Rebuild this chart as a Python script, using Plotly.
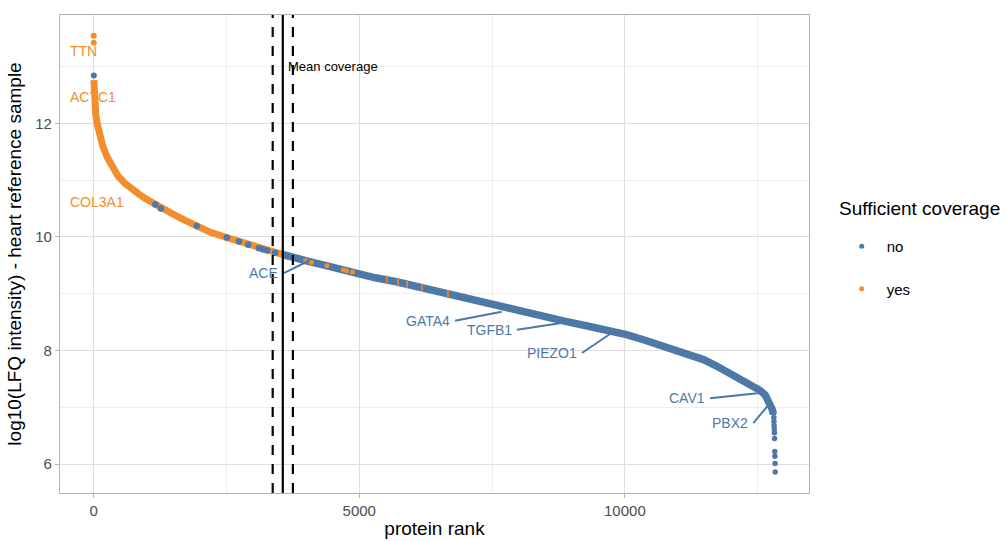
import plotly.graph_objects as go

BLUE = "#4E79A7"
ORANGE = "#F28E2B"
FONT = "Liberation Sans, Arial, Helvetica, sans-serif"

# --- ranked intensities (protein rank, log10 LFQ intensity) ---
# proteins with sufficient coverage, top of the ranking
yes_curve_rank = [4, 8, 20, 40, 70, 110, 170, 250, 340, 460, 590, 730, 870, 1020,
                  1160, 1300, 1500, 1720, 1940, 2200, 2500, 2740, 2910, 3190, 3420,
                  3570, 3700]
yes_curve_val = [12.76, 12.55, 12.35, 12.14, 11.98, 11.80, 11.60, 11.41, 11.24,
                 11.07, 10.94, 10.83, 10.74, 10.65, 10.57, 10.49, 10.40, 10.29,
                 10.19, 10.08, 9.99, 9.92, 9.86, 9.78, 9.73, 9.69, 9.65]

# proteins without sufficient coverage, bulk of the ranking
no_curve_rank = [3570, 3760, 4040, 4260, 4510, 4830, 5010, 5300, 5700, 6200, 6600,
                 6960, 7300, 7590, 7900, 8210, 8500, 8840, 9250, 9660, 10030, 10350,
                 10660, 10980, 11240, 11480, 11700, 11920, 12100, 12290, 12440,
                 12540, 12640, 12700, 12740, 12765, 12785, 12795]
no_curve_val = [9.69, 9.63, 9.57, 9.52, 9.46, 9.39, 9.34, 9.28, 9.21, 9.10, 9.01,
                8.92, 8.85, 8.77, 8.71, 8.65, 8.59, 8.52, 8.44, 8.36, 8.28, 8.19,
                8.10, 7.98, 7.91, 7.84, 7.74, 7.63, 7.55, 7.45, 7.37, 7.30, 7.22,
                7.13, 7.06, 6.98, 6.92, 6.88]

# individual well-separated proteins
yes_top_rank = [1, 2]
yes_top_val = [13.54, 13.42]
no_top_rank = [3]
no_top_val = [12.84]

no_scatter_rank = [1160, 1265, 1940, 2505, 2735, 2910, 3110, 3190, 3265, 3415]
no_scatter_val = [10.57, 10.50, 10.19, 9.99, 9.92, 9.86, 9.80, 9.78, 9.76, 9.72]

yes_scatter_rank = [3990, 4100, 4390, 4700, 4760, 4870]
yes_scatter_val = [9.58, 9.55, 9.49, 9.42, 9.40, 9.38]
yes_sliver_rank = [5520, 5730, 5900, 6180, 6670]
yes_sliver_val = [9.25, 9.20, 9.17, 9.10, 8.99]

no_tail_rank = [12800, 12803, 12806, 12809, 12812, 12815, 12818, 12821, 12824,
                12827, 12830]
no_tail_val = [6.90, 6.82, 6.75, 6.68, 6.62, 6.55, 6.45, 6.22, 6.14, 6.01, 5.86]

# coverage summary
mean_coverage = 3560
coverage_low = 3370
coverage_high = 3750

# labelled genes: label anchor and the protein it points at
gene_names = ["ACE", "GATA4", "TGFB1", "PIEZO1", "CAV1", "PBX2"]
gene_rank = [4040, 7681, 8840, 9720, 12544, 12700]
gene_val = [9.576, 8.683, 8.49, 8.29, 7.25, 7.04]
label_rank = [3569, 6802, 7969, 9192, 11602, 12417]
label_val = [9.359, 8.525, 8.366, 7.956, 7.16, 6.72]

top_gene_names = ["TTN", "ACTC1", "COL3A1"]
top_label_rank = [-478, -478, -478]
top_label_val = [13.278, 12.468, 10.609]

x_ticks = [0, 5000, 10000]
y_ticks = [6, 8, 10, 12]

fig = go.Figure()

# main band of points drawn as a thick trace
fig.add_trace(go.Scatter(x=yes_curve_rank, y=yes_curve_val, mode="lines",
                         line=dict(color=ORANGE, width=7), showlegend=False,
                         hoverinfo="skip"))
fig.add_trace(go.Scatter(x=no_scatter_rank, y=no_scatter_val, mode="markers",
                         marker=dict(color=BLUE, size=6.5), showlegend=False))
fig.add_trace(go.Scatter(x=no_curve_rank, y=no_curve_val, mode="lines",
                         line=dict(color=BLUE, width=7.5), showlegend=False,
                         hoverinfo="skip"))
fig.add_trace(go.Scatter(x=yes_scatter_rank, y=yes_scatter_val, mode="markers",
                         marker=dict(color=ORANGE, size=5), showlegend=False))
fig.add_trace(go.Scatter(x=yes_sliver_rank, y=yes_sliver_val, mode="markers",
                         marker=dict(symbol="line-ns", size=6,
                                     line=dict(color=ORANGE, width=1.5)),
                         showlegend=False))
fig.add_trace(go.Scatter(x=yes_top_rank, y=yes_top_val, mode="markers",
                         marker=dict(color=ORANGE, size=6), showlegend=False))
fig.add_trace(go.Scatter(x=no_top_rank, y=no_top_val, mode="markers",
                         marker=dict(color=BLUE, size=6), showlegend=False))
fig.add_trace(go.Scatter(x=no_tail_rank, y=no_tail_val, mode="markers",
                         marker=dict(color=BLUE, size=5.5), showlegend=False))

# repel-style segments from labels to their proteins
for lr, lv, gr, gv in zip(label_rank, label_val, gene_rank, gene_val):
    fig.add_trace(go.Scatter(x=[lr, gr], y=[lv, gv], mode="lines",
                             line=dict(color=BLUE, width=2), showlegend=False,
                             hoverinfo="skip"))

# legend entries
fig.add_trace(go.Scatter(x=[None], y=[None], mode="markers", name="no",
                         legendgroup="no",
                         marker=dict(color=BLUE, size=5)))
fig.add_trace(go.Scatter(x=[None], y=[None], mode="markers", name="yes",
                         legendgroup="yes",
                         marker=dict(color=ORANGE, size=5)))

# coverage lines
for xv, dash in [(coverage_low, "10px,9px"), (mean_coverage, "solid"),
                 (coverage_high, "10px,9px")]:
    fig.add_shape(type="line", xref="x", yref="paper", x0=xv, x1=xv, y0=0, y1=1,
                  line=dict(color="black", width=2.2, dash=dash))

fig.add_annotation(x=mean_coverage, y=13.0, text="Mean coverage", showarrow=False,
                   xanchor="left", yanchor="middle", xshift=3,
                   font=dict(family=FONT, size=13, color="black"))

for name, lr, lv in zip(gene_names, label_rank, label_val):
    fig.add_annotation(x=lr, y=lv, text=name, showarrow=False, xanchor="right",
                       yanchor="middle", xshift=-3,
                       font=dict(family=FONT, size=14, color=BLUE))
for name, lr, lv in zip(top_gene_names, top_label_rank, top_label_val):
    fig.add_annotation(x=lr, y=lv, text=name, showarrow=False, xanchor="left",
                       yanchor="middle",
                       font=dict(family=FONT, size=14, color=ORANGE))

# legend title
fig.add_annotation(xref="paper", yref="paper", x=1.0374, y=0.595,
                   text="Sufficient coverage", showarrow=False,
                   xanchor="left", yanchor="middle",
                   font=dict(family=FONT, size=19, color="black"))

grid_major = "#DEDEDE"
grid_minor = "#EDEDED"
border = "#B3B3B3"

fig.update_layout(
    width=1006, height=541,
    margin=dict(l=60, r=197, t=15, b=48, autoexpand=False),
    paper_bgcolor="white", plot_bgcolor="white",
    font=dict(family=FONT, color="black"),
    showlegend=True,
    legend=dict(
        x=1.037, xanchor="left", y=0.55, yanchor="top",
        font=dict(size=15, color="black"),
        tracegroupgap=20, itemwidth=40,
        bgcolor="rgba(0,0,0,0)",
    ),
    xaxis=dict(
        range=[-634, 13466], tickvals=x_ticks,
        ticktext=[str(t) for t in x_ticks], automargin=False,
        showgrid=True, gridcolor=grid_major, gridwidth=1,
        minor=dict(dtick=2500, tick0=0, showgrid=True, gridcolor=grid_minor,
                   gridwidth=0.6),
        zeroline=False, showline=True, linecolor=border, linewidth=1.2,
        mirror=True, ticks="outside", ticklen=4, tickcolor=border,
        tickfont=dict(size=15, color="#4D4D4D"),
        title=dict(text="protein rank", font=dict(size=19, color="black"),
                   standoff=3),
    ),
    yaxis=dict(
        range=[5.491, 13.907], tickvals=y_ticks,
        ticktext=[str(t) for t in y_ticks], automargin=False,
        showgrid=True, gridcolor=grid_major, gridwidth=1,
        minor=dict(dtick=1, tick0=0, showgrid=True, gridcolor=grid_minor,
                   gridwidth=0.6),
        zeroline=False, showline=True, linecolor=border, linewidth=1.2,
        mirror=True, ticks="outside", ticklen=4, tickcolor=border,
        tickfont=dict(size=15, color="#4D4D4D"),
        title=dict(text="log10(LFQ intensity) - heart reference sample",
                   font=dict(size=19, color="black"), standoff=8),
    ),
)

fig.write_html("out.html")
